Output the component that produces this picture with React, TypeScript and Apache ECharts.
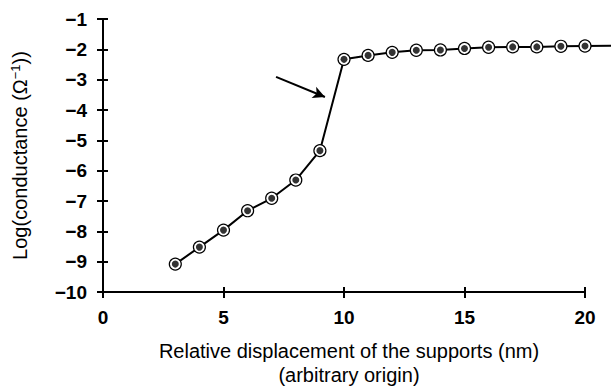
import React, { useEffect, useRef } from "react";
import * as echarts from "echarts";

const xValues = [3, 4, 5, 6, 7, 8, 9, 10, 11, 12, 13, 14, 15, 16, 17, 18, 19, 20];
const logConductance = [-9.08, -8.52, -7.96, -7.32, -6.91, -6.31, -5.34, -2.33, -2.2, -2.1, -2.03, -2.02, -1.97, -1.93, -1.92, -1.92, -1.9, -1.89];
const tailX = [20, 21.1];
const tailY = [-1.89, -1.88];
const arrowStart = [7.18, -2.91];
const arrowEnd = [9.21, -3.57];
const xTitle = "Relative displacement of the supports (nm)\n(arbitrary origin)";

const FONT = "Liberation Sans, Arial, sans-serif";

export default function App() {
  const ref = useRef<HTMLDivElement>(null);
  useEffect(() => {
    const chart = echarts.init(ref.current!, null, { renderer: "svg" });
    const pts = xValues.map((x, i) => [x, logConductance[i]]);
    const minus = (v: number) => String(v).replace("-", "\u2212");
    const tickStyle = { color: "#000", width: 2 };
    chart.setOption({
      animation: false,
      grid: { left: 103, right: 26, top: 19, bottom: 94, outerBoundsMode: "none", containLabel: false },
      xAxis: [
        {
          type: "value", min: 0, max: 20, interval: 5,
          axisLine: { onZero: false, lineStyle: { color: "#000", width: 2 } },
          axisTick: { show: true, length: 6, lineStyle: tickStyle },
          axisLabel: { color: "#000", fontSize: 19, fontWeight: "bold", fontFamily: FONT, margin: 16 },
          splitLine: { show: false },
          name: xTitle, nameLocation: "middle", nameGap: 47,
          nameTextStyle: { color: "#000", fontSize: 20, fontFamily: FONT, lineHeight: 24, padding: [0, 0, 0, 10] },
        },
        {
          type: "value", min: 0, max: 20, interval: 5, position: "bottom", offset: 0,
          axisLine: { show: true, onZero: false, lineStyle: { color: "#000", width: 2 } },
          axisTick: { show: true, inside: true, length: 5, lineStyle: tickStyle },
          axisLabel: { show: false }, splitLine: { show: false },
        },
      ],
      yAxis: [
        {
          type: "value", min: -10, max: -1, interval: 1,
          axisLine: { show: true, onZero: false, lineStyle: { color: "#000", width: 2 } },
          axisTick: { show: true, length: 6, lineStyle: tickStyle },
          axisLabel: { color: "#000", fontSize: 19, fontWeight: "bold", fontFamily: FONT, margin: 16, formatter: minus },
          splitLine: { show: false },
          name: "Log(conductance (\u03a9{sup|\u22121}))", nameLocation: "middle", nameGap: 72,
          nameTextStyle: {
            color: "#000", fontSize: 20, fontFamily: FONT,
            rich: { sup: { fontSize: 13, fontFamily: FONT, color: "#000", verticalAlign: "top", padding: [0, 0, 9, 0] } },
          },
        },
        {
          type: "value", min: -10, max: -1, interval: 1, position: "left", offset: 0,
          axisLine: { show: true, onZero: false, lineStyle: { color: "#000", width: 2 } },
          axisTick: { show: true, inside: true, length: 5, lineStyle: tickStyle },
          axisLabel: { show: false }, splitLine: { show: false },
        },
      ],
      series: [
        {
          type: "line", data: pts, symbol: "circle", symbolSize: 12,
          itemStyle: { color: "#fff", borderColor: "#000", borderWidth: 1.2 },
          lineStyle: { color: "#000", width: 2 }, z: 3,
          markLine: {
            silent: true, symbol: ["none", "arrow"], symbolSize: [9, 12],
            label: { show: false },
            lineStyle: { color: "#000", width: 2, type: "solid" },
            data: [[{ coord: arrowStart }, { coord: arrowEnd }]],
          },
        },
        {
          type: "scatter", data: pts, symbol: "circle", symbolSize: 7,
          itemStyle: { color: "#000" }, z: 4,
        },
      ],
    });
    const p0 = chart.convertToPixel({ gridIndex: 0 }, [tailX[0], tailY[0]]) as number[];
    const p1 = chart.convertToPixel({ gridIndex: 0 }, [tailX[1], tailY[1]]) as number[];
    chart.setOption({
      graphic: [{
        type: "line", z: 2,
        shape: { x1: p0[0], y1: p0[1], x2: p1[0], y2: p1[1] },
        style: { stroke: "#000", lineWidth: 2 },
      }],
    });
    return () => chart.dispose();
  }, []);
  return <div ref={ref} style={{ width: 611, height: 386, position: "absolute", left: 0, top: 0 }} />;
}
